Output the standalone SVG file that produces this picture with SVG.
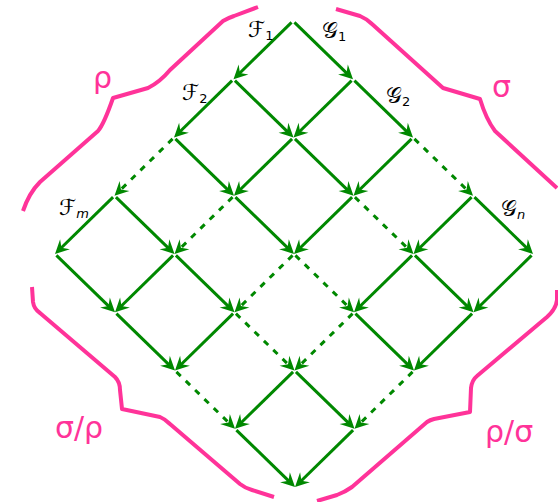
<svg xmlns="http://www.w3.org/2000/svg" xmlns:xlink="http://www.w3.org/1999/xlink" width="558" height="502" viewBox="0 0 558 502">
<style>
.e{stroke:#008800;stroke-width:3;fill:none;marker-end:url(#ah)}
.d{stroke-dasharray:6 7}
.brace{stroke:#ff3399;stroke-width:4;fill:none;stroke-linejoin:round;stroke-linecap:butt}
.gk{font-family:"DejaVu Sans",sans-serif;font-size:30px;fill:#ff3399}
.lb{font-family:"DejaVu Sans","DejaVu Serif",serif;font-size:22px;fill:#000}
.sb{font-size:13px}
.it{font-style:italic}
</style>
<defs>
<marker id="ah" viewBox="-15 -8 16 16" refX="-6" refY="0" markerWidth="16" markerHeight="16" orient="auto" markerUnits="userSpaceOnUse">
<path d="M0,0 L-14,-7 L-9,0 L-14,7 Z" fill="#008800"/>
</marker>
<line id="dl" class="e" x1="-1.43" y1="1.40" x2="-55.21" y2="54.05"/>
<line id="dr" class="e" x1="1.43" y1="1.39" x2="55.70" y2="54.07"/>
<line id="dld" class="e d" x1="-1.43" y1="1.40" x2="-55.21" y2="54.05"/>
<line id="drd" class="e d" x1="1.43" y1="1.39" x2="55.70" y2="54.07"/>
</defs>
<rect width="558" height="502" fill="#fff"/>
<g id="connectors">
<use xlink:href="#dl" x="293" y="21"/>
<use xlink:href="#dl" x="353" y="79.25"/>
<use xlink:href="#dl" x="413" y="137.5"/>
<use xlink:href="#dl" x="473" y="195.75"/>
<use xlink:href="#dl" x="533" y="254"/>
<use xlink:href="#dl" x="233.5" y="79.25"/>
<use xlink:href="#dl" x="293.5" y="137.5"/>
<use xlink:href="#dl" x="353.5" y="195.75"/>
<use xlink:href="#dl" x="413.5" y="254"/>
<use xlink:href="#dl" x="473.5" y="312.25"/>
<use xlink:href="#dl" x="114.5" y="195.75"/>
<use xlink:href="#dl" x="174.5" y="254"/>
<use xlink:href="#dl" x="234.5" y="312.25"/>
<use xlink:href="#dl" x="294.5" y="370.5"/>
<use xlink:href="#dl" x="354.5" y="428.75"/>
<use xlink:href="#dld" x="174" y="137.5"/>
<use xlink:href="#dld" x="234" y="195.75"/>
<use xlink:href="#dld" x="294" y="254"/>
<use xlink:href="#dld" x="354" y="312.25"/>
<use xlink:href="#dld" x="414" y="370.5"/>
<use xlink:href="#dr" x="293" y="21"/>
<use xlink:href="#dr" x="233.5" y="79.25"/>
<use xlink:href="#dr" x="174" y="137.5"/>
<use xlink:href="#dr" x="114.5" y="195.75"/>
<use xlink:href="#dr" x="55" y="254"/>
<use xlink:href="#dr" x="353" y="79.25"/>
<use xlink:href="#dr" x="293.5" y="137.5"/>
<use xlink:href="#dr" x="234" y="195.75"/>
<use xlink:href="#dr" x="174.5" y="254"/>
<use xlink:href="#dr" x="115" y="312.25"/>
<use xlink:href="#dr" x="473" y="195.75"/>
<use xlink:href="#dr" x="413.5" y="254"/>
<use xlink:href="#dr" x="354" y="312.25"/>
<use xlink:href="#dr" x="294.5" y="370.5"/>
<use xlink:href="#dr" x="235" y="428.75"/>
<use xlink:href="#drd" x="413" y="137.5"/>
<use xlink:href="#drd" x="353.5" y="195.75"/>
<use xlink:href="#drd" x="294" y="254"/>
<use xlink:href="#drd" x="234.5" y="312.25"/>
<use xlink:href="#drd" x="175" y="370.5"/>
</g>
<g id="braces">
<path id="brace-rho" class="brace" d="M23,211 Q29,193 40,182 L98,131 Q104,124 113,98 L148,88 Q160,82 170,70 L223,21 Q228,18 234,16 L258,7"/>
<path id="brace-sigma" class="brace" d="M336,9 L360,16 Q367,19 372,24 L443,88 L480,99 Q486,119 495,131 L557,188"/>
<path id="brace-sigmarho" class="brace" d="M32,287 L33,302 Q34,309 40,313 L115,377 Q120,382 120,390 L122,409 L160,417 Q165,419 170,424 L240,484 Q245,488 252,490 L274,497"/>
<path id="brace-rhosigma" class="brace" d="M317,501 L337,495 Q345,492 352,487 L427,422 Q430,420 434,419 L470,412 L471,388 Q472,380 477,376 L547,317 Q556,309 557,300 L557,290"/>
</g>
<g id="labels">
<g id="lab-rho"><text class="gk" x="93" y="88">ρ</text></g>
<g id="lab-sigma"><text class="gk" x="492" y="97">σ</text></g>
<g id="lab-sigmarho"><text class="gk" x="55" y="438">σ/ρ</text></g>
<g id="lab-rhosigma"><text class="gk" x="485" y="442">ρ/σ</text></g>
<g id="lab-F1"><text class="lb" x="248" y="37">ℱ<tspan class="sb" dy="3">1</tspan></text></g>
<g id="lab-G1"><text class="lb" x="322" y="38">𝒢<tspan class="sb" dy="3">1</tspan></text></g>
<g id="lab-F2"><text class="lb" x="182" y="100">ℱ<tspan class="sb" dy="3">2</tspan></text></g>
<g id="lab-G2"><text class="lb" x="386" y="103">𝒢<tspan class="sb" dy="3">2</tspan></text></g>
<g id="lab-Fm"><text class="lb" x="59" y="215">ℱ<tspan class="sb it" dy="3">m</tspan></text></g>
<g id="lab-Gn"><text class="lb" x="501" y="216">𝒢<tspan class="sb it" dy="3">n</tspan></text></g>
</g>
</svg>
